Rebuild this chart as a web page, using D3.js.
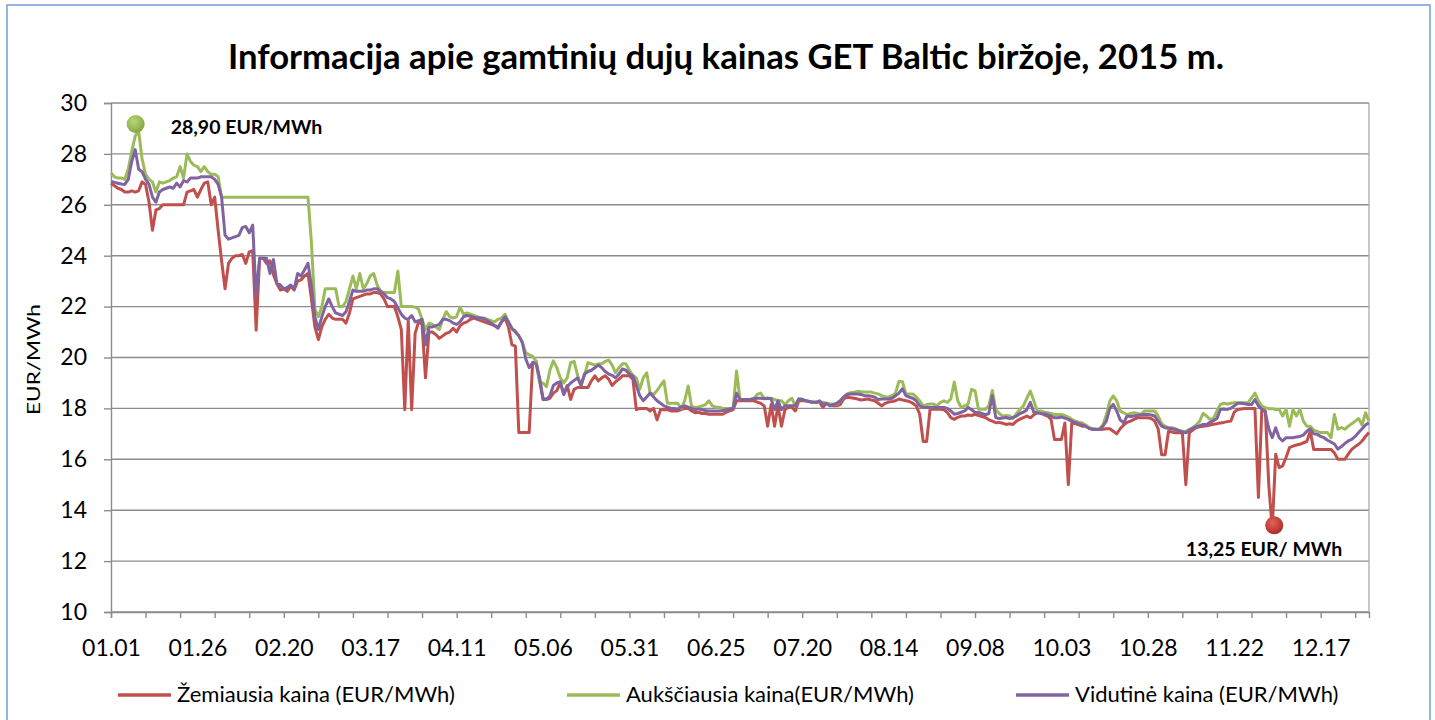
<!DOCTYPE html>
<html>
<head>
<meta charset="utf-8">
<script src="https://cdn.jsdelivr.net/npm/d3@7"></script>
<style>
    body { margin: 0; background: #ffffff; }
    svg text { font-family: Lato, "Open Sans", sans-serif; fill: #000; }
</style>
</head>
<body>
<script>
//chart title and axis / legend texts
var chartTitle = "Informacija apie gamtinių dujų kainas GET Baltic biržoje, 2015 m.";
var yTitle = "EUR/MWh";
var seriesNames = ["Žemiausia kaina (EUR/MWh)", "Aukščiausia kaina(EUR/MWh)", "Vidutinė kaina (EUR/MWh)"];
var seriesColors = ["#C0504D", "#9BBB59", "#8064A2"];

//x tick labels (every 25 days) and y ticks
var tickLabels = ["01.01", "01.26", "02.20", "03.17", "04.11", "05.06", "05.31", "06.25",
    "07.20", "08.14", "09.08", "10.03", "10.28", "11.22", "12.17"];
var yTicks = [10, 12, 14, 16, 18, 20, 22, 24, 26, 28, 30];

//daily prices, 2015-01-01 .. 2015-12-31 (10 days per row)
var minPrice = [
    26.85, 26.75, 26.65, 26.6, 26.5, 26.5, 26.55, 26.5, 26.55, 26.9,
    26.8, 26.1, 25.0, 25.8, 25.85, 26.0, 26.0, 26.0, 26.0, 26.0,
    26.0, 26.0, 26.5, 26.55, 26.6, 26.3, 26.6, 26.85, 26.9, 26.0,
    26.3, 25.0, 23.8, 22.7, 23.7, 23.9, 24.0, 24.0, 24.05, 23.7,
    24.15, 24.2, 21.07, 23.9, 23.9, 23.7, 23.8, 23.25, 22.9, 22.65,
    22.7, 22.6, 22.8, 22.65, 23.0, 23.05, 23.2, 23.3, 22.3, 21.2,
    20.7, 21.2, 21.5, 21.7, 21.55, 21.5, 21.5, 21.5, 21.35, 21.75,
    22.3, 22.35, 22.4, 22.45, 22.5, 22.5, 22.55, 22.55, 22.5, 22.3,
    22.0, 22.0, 22.0, 21.6, 21.1, 17.95, 21.45, 17.95, 20.95, 21.4,
    21.3, 19.2, 21.0, 21.0, 20.9, 20.75, 20.85, 20.95, 21.0, 21.15,
    21.0, 21.25, 21.35, 21.4, 21.5, 21.55, 21.5, 21.45, 21.4, 21.35,
    21.3, 21.25, 21.2, 21.4, 21.55, 21.2, 20.5, 20.45, 17.05, 17.05,
    17.05, 17.05, 19.8, 19.85, 19.1, 18.35, 18.35, 18.4, 18.6, 18.7,
    19.0, 18.55, 18.9, 18.35, 18.75, 18.82, 18.82, 18.82, 18.82, 19.08,
    19.28, 19.08, 19.2, 19.28, 19.15, 18.9, 19.05, 19.15, 19.28, 19.28,
    19.28, 19.15, 17.95, 18.0, 18.0, 18.0, 17.9, 18.0, 17.55, 17.95,
    17.95, 17.95, 17.9, 17.9, 17.9, 17.95, 18.0, 18.0, 17.9, 17.83,
    17.85, 17.8, 17.8, 17.77, 17.77, 17.77, 17.77, 17.77, 17.85, 17.9,
    17.95, 18.3, 18.3, 18.3, 18.3, 18.3, 18.3, 18.25, 18.2, 18.1,
    17.3, 18.15, 17.3, 18.1, 17.3, 17.95, 18.05, 18.05, 17.9, 18.3,
    18.3, 18.3, 18.27, 18.24, 18.24, 18.24, 18.04, 18.2, 18.15, 18.1,
    18.1, 18.15, 18.37, 18.44, 18.42, 18.4, 18.37, 18.33, 18.35, 18.37,
    18.33, 18.3, 18.2, 18.1, 18.2, 18.25, 18.27, 18.3, 18.37, 18.33,
    18.3, 18.27, 18.2, 18.1, 17.77, 16.7, 16.7, 17.97, 17.97, 17.97,
    17.97, 17.95, 17.84, 17.64, 17.57, 17.65, 17.7, 17.7, 17.74, 17.72,
    17.77, 17.72, 17.68, 17.64, 17.55, 17.5, 17.44, 17.45, 17.42, 17.37,
    17.4, 17.37, 17.5, 17.58, 17.64, 17.7, 17.63, 17.75, 17.83, 17.83,
    17.75, 17.7, 17.57, 16.78, 16.78, 16.78, 17.43, 15.0, 17.43, 17.4,
    17.35, 17.3, 17.3, 17.22, 17.2, 17.18, 17.17, 17.18, 17.2, 17.2,
    17.1, 17.0, 17.2, 17.35, 17.45, 17.5, 17.57, 17.63, 17.63, 17.63,
    17.63, 17.6, 17.5, 17.2, 16.18, 16.18, 17.1, 17.07, 17.04, 17.04,
    17.04, 15.0, 17.04, 17.15, 17.25, 17.28, 17.3, 17.32, 17.35, 17.38,
    17.4, 17.43, 17.45, 17.48, 17.5, 17.85, 17.96, 17.98, 18.0, 18.0,
    18.0, 18.0, 14.5, 18.0, 17.9, 15.0, 13.25, 16.2, 15.67, 15.74,
    16.07, 16.46, 16.52, 16.56, 16.59, 16.65, 16.7, 17.1, 16.39, 16.39,
    16.39, 16.39, 16.39, 16.39, 16.25, 16.0, 16.0, 16.0, 16.2, 16.39,
    16.5, 16.59, 16.72, 16.9, 17.05
];
var maxPrice = [
    27.25, 27.1, 27.05, 27.05, 27.0, 27.4, 28.1, 28.7, 28.9, 27.8,
    27.2, 27.0, 26.9, 26.5, 26.9, 26.85, 26.9, 26.95, 27.05, 27.1,
    27.5, 27.05, 28.0, 27.7, 27.55, 27.5, 27.3, 27.5, 27.3, 27.2,
    27.2, 27.1, 26.3, 26.3, 26.3, 26.3, 26.3, 26.3, 26.3, 26.3,
    26.3, 26.3, 26.3, 26.3, 26.3, 26.3, 26.3, 26.3, 26.3, 26.3,
    26.3, 26.3, 26.3, 26.3, 26.3, 26.3, 26.3, 26.3, 24.5, 21.9,
    21.6, 22.0, 22.7, 22.7, 22.7, 22.7, 22.0, 22.0, 22.2, 22.7,
    23.2, 22.7, 23.3, 22.7, 22.9, 23.2, 23.3, 22.85, 22.6, 22.55,
    22.55, 22.55, 22.55, 23.4, 22.0, 22.0, 22.0, 22.0, 21.98, 21.9,
    21.5, 21.1, 21.35, 21.3, 21.2, 21.1, 21.5, 21.8, 21.6, 21.55,
    21.6, 21.98, 21.7, 21.75, 21.7, 21.65, 21.6, 21.55, 21.55, 21.5,
    21.45, 21.4, 21.5, 21.55, 21.7, 21.4, 21.1, 21.05, 20.85, 20.6,
    20.2, 20.1, 20.05, 19.85, 19.0, 19.0, 18.85, 19.5, 19.87, 19.6,
    19.2, 19.0, 19.2, 19.8, 19.85, 19.3, 18.9, 19.3, 19.8, 19.75,
    19.7, 19.75, 19.75, 19.85, 19.9, 19.7, 19.4, 19.6, 19.75, 19.75,
    19.5, 19.3, 19.2, 18.75, 19.2, 19.4, 18.6, 18.55, 18.7, 18.9,
    19.08, 18.2, 18.2, 18.2, 18.2, 18.0, 18.3, 18.88, 18.07, 18.05,
    18.05, 18.1, 18.15, 18.3, 18.1, 18.05, 18.05, 18.0, 18.0, 18.0,
    18.0, 19.47, 18.35, 18.35, 18.35, 18.35, 18.4, 18.55, 18.6, 18.4,
    18.4, 18.4, 18.35, 18.3, 18.3, 18.15, 18.3, 18.4, 18.1, 18.37,
    18.37, 18.3, 18.27, 18.24, 18.24, 18.24, 18.24, 18.2, 18.17, 18.17,
    18.17, 18.3, 18.44, 18.57, 18.62, 18.64, 18.67, 18.65, 18.64, 18.64,
    18.64, 18.6, 18.57, 18.5, 18.45, 18.45, 18.5, 18.6, 19.07, 19.05,
    18.57, 18.57, 18.57, 18.45, 18.3, 18.1, 18.15, 18.17, 18.17, 18.1,
    18.24, 18.3, 18.24, 18.37, 19.04, 18.3, 18.04, 18.1, 18.17, 18.75,
    18.7, 17.97, 17.97, 17.97, 18.1, 18.7, 17.97, 17.8, 17.7, 17.72,
    17.7, 17.6, 17.8, 17.95, 18.1, 18.4, 18.68, 18.3, 17.9, 17.9,
    17.85, 17.83, 17.8, 17.76, 17.76, 17.76, 17.72, 17.66, 17.57, 17.5,
    17.46, 17.43, 17.35, 17.25, 17.2, 17.18, 17.2, 17.35, 17.75, 18.29,
    18.49, 18.3, 17.9, 17.83, 17.76, 17.8, 17.83, 17.8, 17.76, 17.9,
    17.9, 17.9, 17.9, 17.7, 17.4, 17.3, 17.24, 17.24, 17.2, 17.15,
    17.1, 17.1, 17.17, 17.25, 17.35, 17.5, 17.8, 17.7, 17.57, 17.6,
    17.9, 18.16, 18.2, 18.17, 18.2, 18.22, 18.22, 18.22, 18.22, 18.22,
    18.4, 18.6, 18.3, 18.09, 18.03, 17.99, 17.99, 17.96, 17.96, 17.7,
    17.96, 17.3, 17.96, 17.7, 17.96, 17.5, 17.3, 17.3, 17.15, 17.1,
    17.05, 17.05, 17.05, 16.85, 17.76, 17.18, 17.25, 17.18, 17.3, 17.4,
    17.5, 17.6, 17.35, 17.83, 17.5
];
var avgPrice = [
    26.92, 26.88, 26.85, 26.82, 26.8, 27.0, 27.7, 28.17, 27.4, 27.3,
    27.0, 26.8, 26.3, 26.1, 26.5, 26.6, 26.65, 26.7, 26.65, 26.85,
    26.7, 26.95, 26.9, 27.05, 27.05, 27.05, 27.1, 27.1, 27.1, 27.1,
    27.0, 26.8, 26.3, 24.8, 24.65, 24.7, 24.75, 24.8, 25.1, 25.15,
    24.9, 25.2, 22.4, 23.9, 23.9, 23.9, 23.3, 23.85, 22.9, 22.85,
    22.7, 22.75, 22.85, 22.7, 23.3, 23.2, 23.45, 23.7, 22.8, 21.6,
    21.1, 21.6, 22.0, 22.3, 22.0, 21.75, 21.7, 21.65, 21.8, 22.2,
    22.65, 22.6, 22.6, 22.6, 22.65, 22.65, 22.7, 22.7, 22.6, 22.5,
    22.35, 22.3, 22.2, 21.95, 21.7, 21.55, 21.5, 21.65, 21.4, 21.45,
    21.5, 20.5, 21.2, 21.2, 21.25, 21.3, 21.5, 21.5, 21.45, 21.35,
    21.3, 21.4, 21.6, 21.65, 21.62, 21.58, 21.55, 21.55, 21.52, 21.45,
    21.35, 21.25, 21.15, 21.4, 21.6, 21.4, 21.15, 21.0, 20.85, 20.6,
    19.95, 19.6, 19.8, 19.75, 19.2, 18.4, 18.35, 18.5, 18.9, 19.0,
    19.05, 18.55, 18.85, 19.0, 19.1, 19.2, 18.9, 19.35, 19.45, 19.5,
    19.6, 19.7, 19.6, 19.45, 19.35, 19.3, 19.2, 19.35, 19.55, 19.5,
    19.35, 19.28, 18.9, 18.5, 18.3, 18.45, 18.6, 18.45, 18.3, 18.2,
    18.1, 18.05, 18.0, 18.0, 17.97, 18.05, 18.1, 18.05, 18.0, 17.95,
    17.98, 17.95, 17.92, 17.9, 17.9, 17.9, 17.9, 17.92, 17.95, 17.98,
    18.0, 18.6, 18.35, 18.35, 18.35, 18.35, 18.38, 18.4, 18.4, 18.38,
    18.4, 18.38, 17.95, 18.3, 17.95, 18.1, 18.1, 18.1, 18.1, 18.37,
    18.35, 18.3, 18.27, 18.24, 18.24, 18.3, 18.15, 18.2, 18.1, 18.15,
    18.2, 18.3, 18.45, 18.55, 18.57, 18.57, 18.57, 18.55, 18.5, 18.5,
    18.48, 18.44, 18.35, 18.37, 18.37, 18.37, 18.4, 18.5, 18.6, 18.77,
    18.5, 18.44, 18.4, 18.3, 18.1, 18.04, 18.04, 18.04, 18.04, 18.04,
    18.04, 18.04, 18.0, 17.9, 17.77, 17.8, 17.85, 17.9, 18.04, 17.95,
    17.85, 17.84, 17.8, 17.75, 17.8, 18.5, 17.64, 17.6, 17.62, 17.64,
    17.6, 17.65, 17.7, 17.8, 17.85, 17.95, 18.24, 17.85, 17.83, 17.8,
    17.78, 17.76, 17.7, 17.63, 17.63, 17.66, 17.62, 17.57, 17.5, 17.45,
    17.4, 17.35, 17.3, 17.22, 17.17, 17.17, 17.18, 17.3, 17.5, 18.0,
    18.16, 17.9, 17.55, 17.43, 17.7, 17.68, 17.7, 17.72, 17.75, 17.76,
    17.76, 17.74, 17.7, 17.5, 17.3, 17.24, 17.22, 17.2, 17.17, 17.12,
    17.08, 17.04, 17.15, 17.22, 17.28, 17.32, 17.37, 17.37, 17.45, 17.52,
    17.6, 17.96, 17.98, 17.96, 18.0, 18.1, 18.2, 18.2, 18.18, 18.15,
    18.15, 18.35, 18.1, 17.96, 17.85, 17.2, 16.85, 17.24, 16.85, 16.72,
    16.85, 16.85, 16.85, 16.88, 16.9, 16.95, 17.1, 17.2, 17.0, 16.98,
    16.9, 16.85, 16.75, 16.68, 16.6, 16.4, 16.5, 16.62, 16.72, 16.78,
    16.9, 17.05, 17.2, 17.35, 17.44
];

window.onload = function () {
    var w = 1435, h = 720;
    //plot area
    var left = 111, right = 1369, top = 103, bottom = 612;

    var svg = d3.select("body")
        .append("svg")
        .attr("width", w)
        .attr("height", h)
        .style("background-color", "#ffffff");

    //chart frame (light blue)
    svg.append("rect")
        .attr("x", 7)
        .attr("y", 5)
        .attr("width", 1423)
        .attr("height", 740)
        .style("fill", "none")
        .style("stroke", "#6f9fd8")
        .style("stroke-width", 1.5);

    //one date per value
    var dates = d3.utcDay.range(Date.UTC(2015, 0, 1), Date.UTC(2016, 0, 1));
    var parseTick = d3.utcParse("%Y.%m.%d");
    var fmt = d3.utcFormat("%m.%d");

    var x = d3.scaleUtc()
        .domain([dates[0], dates[dates.length - 1]])
        .range([left, right]);
    var y = d3.scaleLinear()
        .domain([10, 30])
        .range([bottom, top]);

    //horizontal gridlines
    svg.append("g")
        .attr("class", "grid")
        .selectAll("line")
        .data(yTicks)
        .enter()
        .append("line")
        .attr("x1", left)
        .attr("x2", right)
        .attr("y1", function (d) { return y(d); })
        .attr("y2", function (d) { return y(d); })
        .style("stroke", "#8c8c8c")
        .style("stroke-width", 1.4);

    //right border of the plot
    svg.append("line")
        .attr("x1", right).attr("x2", right)
        .attr("y1", top).attr("y2", bottom)
        .style("stroke", "#b0b0b0")
        .style("stroke-width", 1.4);

    //y axis
    var yAxis = d3.axisLeft(y)
        .tickValues(yTicks)
        .tickSize(7)
        .tickPadding(17);
    var gy = svg.append("g")
        .attr("class", "axis")
        .attr("transform", "translate(" + left + ",0)")
        .call(yAxis);
    gy.selectAll("line, path").style("stroke", "#8c8c8c").style("stroke-width", 1.4);
    gy.selectAll("text")
        .style("font-size", "23px")
        .style("font-family", "Lato, sans-serif");

    //x axis: small ticks every 10 days, labels every 25 days
    var minorTicks = dates.filter(function (d, i) { return i % 10 === 0; });
    var xMinor = d3.axisBottom(x)
        .tickValues(minorTicks)
        .tickSize(6)
        .tickFormat("");
    var gx = svg.append("g")
        .attr("transform", "translate(0," + bottom + ")")
        .call(xMinor);
    gx.selectAll("line, path").style("stroke", "#8c8c8c").style("stroke-width", 1.4);

    var labelDates = tickLabels.map(function (t) { return parseTick("2015." + t); });
    var xAxis = d3.axisBottom(x)
        .tickValues(labelDates)
        .tickSize(0)
        .tickFormat(fmt);
    var gx2 = svg.append("g")
        .attr("transform", "translate(0," + bottom + ")")
        .call(xAxis);
    gx2.select(".domain").remove();
    gx2.selectAll("text")
        .attr("y", 44)
        .attr("dy", null)
        .style("font-size", "23px")
        .style("font-family", "Lato, sans-serif");

    //y axis title (stretched a little along its length like the original)
    svg.append("text")
        .attr("transform", "translate(40," + ((top + bottom) / 2 + 2) + ") rotate(-90)")
        .attr("text-anchor", "middle")
        .attr("textLength", 111)
        .attr("lengthAdjust", "spacingAndGlyphs")
        .style("font-size", "17px")
        .text(yTitle);

    //title
    svg.append("text")
        .attr("x", 726)
        .attr("y", 69)
        .attr("text-anchor", "middle")
        .style("font-size", "34.7px")
        .style("font-weight", "bold")
        .text(chartTitle);

    //price lines: min, max, avg (avg on top)
    var line = d3.line()
        .x(function (d, i) { return x(dates[i]); })
        .y(function (d) { return y(d); });
    var series = [minPrice, maxPrice, avgPrice];
    svg.selectAll(".series")
        .data(series)
        .enter()
        .append("path")
        .attr("class", "series")
        .attr("d", line)
        .style("fill", "none")
        .style("stroke", function (d, i) { return seriesColors[i]; })
        .style("stroke-width", 3)
        .style("stroke-linejoin", "round");

    //gradients for the two markers
    var defs = svg.append("defs");
    function ball(id, light, base, dark) {
        var g = defs.append("radialGradient")
            .attr("id", id)
            .attr("cx", "40%").attr("cy", "35%").attr("r", "65%");
        g.append("stop").attr("offset", "0%").attr("stop-color", light);
        g.append("stop").attr("offset", "60%").attr("stop-color", base);
        g.append("stop").attr("offset", "100%").attr("stop-color", dark);
    }
    ball("gMax", "#b6d67a", "#9BBB59", "#86a545");
    ball("gMin", "#e0625c", "#C8423C", "#a8302c");

    var comma = function (v) { return d3.format(".2f")(v).replace(".", ","); };

    //highest price marker and label
    var iMax = d3.maxIndex(maxPrice);
    svg.append("circle")
        .attr("cx", x(dates[iMax]) - 3)
        .attr("cy", y(maxPrice[iMax]) - 7)
        .attr("r", 9)
        .style("fill", "url(#gMax)");
    svg.append("text")
        .attr("x", x(dates[iMax]) + 32)
        .attr("y", y(maxPrice[iMax]) + 3)
        .style("font-size", "19.5px")
        .style("font-weight", "bold")
        .text(comma(maxPrice[iMax]) + " EUR/MWh");

    //lowest price marker and label
    var iMin = d3.minIndex(minPrice);
    svg.append("circle")
        .attr("cx", x(dates[iMin]) + 2)
        .attr("cy", y(minPrice[iMin]) - 4)
        .attr("r", 9)
        .style("fill", "url(#gMin)");
    svg.append("text")
        .attr("x", x(dates[iMin]) + 70)
        .attr("y", y(minPrice[iMin]) + 27)
        .attr("text-anchor", "end")
        .style("font-size", "19.5px")
        .style("font-weight", "bold")
        .text(comma(minPrice[iMin]) + " EUR/ MWh");

    //legend
    var legendX = [118, 567, 1016];
    var legend = svg.selectAll(".legend")
        .data(seriesNames)
        .enter()
        .append("g")
        .attr("class", "legend")
        .attr("transform", function (d, i) { return "translate(" + legendX[i] + ",695)"; });
    legend.append("line")
        .attr("x1", 0).attr("x2", 53)
        .attr("y1", 0).attr("y2", 0)
        .style("stroke", function (d, i) { return seriesColors[i]; })
        .style("stroke-width", 3.5);
    legend.append("text")
        .attr("x", 59)
        .attr("y", 7)
        .style("font-size", "22px")
        .text(function (d) { return d; });
};
</script>
</body>
</html>
